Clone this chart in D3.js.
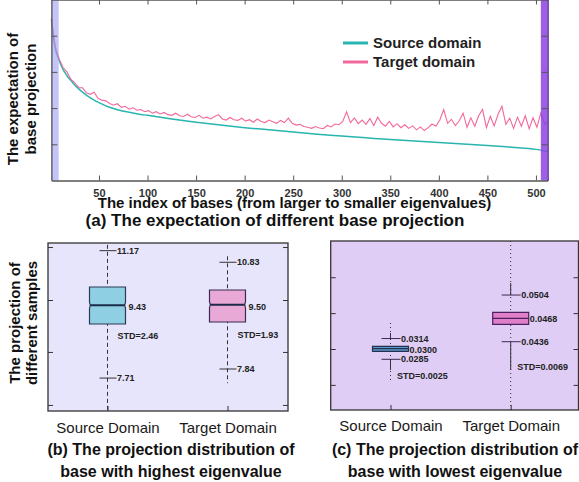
<!DOCTYPE html>
<html><head><meta charset="utf-8">
<script src="https://d3js.org/d3.v7.min.js"></script>
<style>
html,body{margin:0;padding:0;background:#fff;}
svg{display:block;font-family:"Liberation Sans",Arial,sans-serif;}
</style></head>
<body><svg id="c" width="579" height="482"></svg>
<script>
// ---------- Data: panel (a) ----------
const idxTicks = [50,100,150,200,250,300,350,400,450,500];
const seriesNames = ["Source domain","Target domain"];
const sourceIdx = [1,2,3,4,5,6,7,8,10,12,14,16,18,20,25,30,35,40,45,50,60,70,80,90,100,125,150,175,200,225,250,275,300,325,350,375,400,425,450,475,500,512];
const sourceVals = [4.45,4.2,3.98,3.8,3.65,3.54,3.46,3.39,3.25,3.12,3.02,2.94,2.86,2.80,2.64,2.51,2.40,2.30,2.22,2.15,2.03,1.95,1.89,1.84,1.80,1.70,1.61,1.53,1.46,1.40,1.34,1.28,1.23,1.18,1.13,1.09,1.05,1.01,0.97,0.92,0.86,0.80];
const targetIdx = d3.range(1, 510, 4).concat([512]);
const targetVals = [4.48,3.70,3.36,3.12,3.00,2.80,2.70,2.57,2.56,2.42,2.38,2.44,2.27,2.22,2.20,2.13,
 2.08,2.12,2.02,2.05,1.97,2.01,1.94,1.96,1.90,1.93,1.86,1.90,1.84,1.88,1.82,1.80,
 1.86,1.79,1.77,1.83,1.76,1.74,1.80,1.72,1.75,1.70,1.77,1.82,1.70,1.67,1.74,1.68,
 1.66,1.72,1.64,1.68,1.61,1.70,1.63,1.60,1.67,1.62,1.58,1.66,1.60,1.72,1.58,1.53,
 1.55,1.49,1.47,1.44,1.49,1.45,1.43,1.52,1.48,1.56,1.54,1.63,1.90,1.60,1.73,1.57,
 1.67,1.55,1.71,1.52,1.75,1.58,1.50,1.63,1.48,1.57,1.46,1.54,1.44,1.51,1.40,1.48,
 1.38,1.46,1.56,1.50,1.67,1.96,1.58,1.69,1.52,1.65,1.86,1.47,1.73,1.50,1.79,1.96,
 1.46,1.77,1.51,1.83,2.05,1.55,1.72,1.44,1.75,1.50,1.79,1.43,1.73,1.47,1.86,1.56,1.60];
const bandRanges = [[1,8.5],[505,512]];

// ---------- Data: panel (b) ----------
const domainCats = ["Source Domain","Target Domain"];
const bTicks = [6.91,8.37,9.80,11.26];
const bQ1 = [9.14,9.195], bMed = [9.655,9.671], bQ3 = [10.159,10.076];
const bCapLo = [7.65,7.90], bCapHi = [11.16,10.84];
const bMin = [6.74,7.51], bMax = [11.32,11.005];
const bCapHiLabel = ["11.17","10.83"], bMedLabel = ["9.43","9.50"], bCapLoLabel = ["7.71","7.84"];
const bStdLabel = ["STD=2.46","STD=1.93"], bStdAt = [8.81,8.84];

// ---------- Data: panel (c) ----------
const cTicks = [0.02,0.03,0.04,0.05];
const cQ1 = [0.02936,0.03688], cMed = [0.03008,0.03855], cQ3 = [0.03075,0.04022];
const cCapLo = [0.02713,0.03203], cCapHi = [0.03292,0.04504];
const cDenseLo = [0.02415,0.02415], cDenseHi = [0.03446,0.04838];
const cMin = [0.02053,0.0130], cMax = [0.03724,0.0601];
const cCapHiLabel = ["0.0314","0.0504"], cMedLabel = ["0.0300","0.0468"], cCapLoLabel = ["0.0285","0.0436"];
const cStdLabel = ["STD=0.0025","STD=0.0069"], cStdAt = [0.02256,0.02499];

const svg = d3.select("#c");
const AX = "#555";

// ================= Panel (a) =================
const xA = d3.scaleLinear().domain([1,512]).range([51.4,547.6]);
const yA = d3.scaleLinear().domain([0,5]).range([180.5,-0.5]);
const gA = svg.append("g");

const srcPts = sourceIdx.map((d,i)=>[d,sourceVals[i]]);
const tgtPts = targetIdx.map((d,i)=>[d,targetVals[i]]);
gA.append("path").datum(srcPts)
  .attr("d", d3.line().x(d=>xA(d[0])).y(d=>yA(d[1])).curve(d3.curveMonotoneX))
  .attr("fill","none").attr("stroke","#28b5b0").attr("stroke-width",1.5);
gA.append("path").datum(tgtPts)
  .attr("d", d3.line().x(d=>xA(d[0])).y(d=>yA(d[1])))
  .attr("fill","none").attr("stroke","#f2689c").attr("stroke-width",1.1);

const bandFill = ["#9d9df5","#8d43e2"], bandOp = [0.6,0.85];
gA.selectAll("rect.band").data(bandRanges).join("rect")
  .attr("x",d=>xA(d[0])).attr("width",d=>xA(d[1])-xA(d[0]))
  .attr("y",yA(5)).attr("height",yA(0)-yA(5))
  .attr("fill",(d,i)=>bandFill[i]).attr("opacity",(d,i)=>bandOp[i]);

function styleAxis(g){
  g.select(".domain").attr("stroke",AX).attr("stroke-width",1.3);
  g.selectAll(".tick line").attr("stroke",AX).attr("stroke-width",1);
}
gA.append("g").attr("transform",`translate(0,${yA(0)})`)
  .call(d3.axisBottom(xA).tickValues(idxTicks).tickSize(-5).tickSizeOuter(0).tickPadding(8.5))
  .call(styleAxis)
  .call(g=>g.selectAll("text").attr("font-size",11).attr("font-weight","bold").attr("fill","#333")
     .attr("font-family","'Liberation Sans',Arial,sans-serif"));
gA.append("g").attr("transform",`translate(0,${yA(5)})`)
  .call(d3.axisTop(xA).tickValues(idxTicks).tickSize(-5).tickSizeOuter(0).tickFormat(""))
  .call(styleAxis);
gA.append("g").attr("transform",`translate(${xA(1)},0)`)
  .call(d3.axisLeft(yA).tickValues([1,2,3,4]).tickSize(-6).tickSizeOuter(0).tickFormat(""))
  .call(styleAxis);
gA.append("g").attr("transform",`translate(${xA(512)},0)`)
  .call(d3.axisRight(yA).tickValues([1,2,3,4]).tickSize(-6).tickSizeOuter(0).tickFormat(""))
  .call(styleAxis).call(g=>g.select(".domain").attr("stroke","#4a1a90"));

// legend
const legColors = ["#28b5b0","#f2689c"];
const leg = gA.append("g");
seriesNames.forEach((n,i)=>{
  const yy = 43 + i*19;
  leg.append("line").attr("x1",343).attr("x2",368).attr("y1",yy).attr("y2",yy)
    .attr("stroke",legColors[i]).attr("stroke-width",3);
  leg.append("text").attr("x",373).attr("y",yy+5).text(n)
    .attr("font-size",15).attr("font-weight","bold").attr("fill","#222");
});

// y label (a)
const yl = svg.append("text").attr("transform","translate(18,99) rotate(-90)")
  .attr("text-anchor","middle").attr("font-size",15).attr("font-weight","bold").attr("fill","#111");
yl.append("tspan").attr("x",0).attr("dy",0).text("The expectation of");
yl.append("tspan").attr("x",0).attr("dy",18).text("base projection");

svg.append("text").attr("x",294.5).attr("y",207.5).attr("text-anchor","middle")
  .attr("font-size",15).attr("font-weight","bold").attr("fill","#111")
  .text("The index of bases (from larger to smaller eigenvalues)");
svg.append("text").attr("x",275).attr("y",225.5).attr("text-anchor","middle")
  .attr("font-size",17).attr("font-weight","bold").attr("fill","#111")
  .text("(a) The expectation of different base projection");

// ================= Box panels =================
function boxPanel(opt){
  const g = svg.append("g");
  const {x0,x1,y0,y1,y,x} = opt;
  g.append("rect").attr("x",x0).attr("y",y0).attr("width",x1-x0).attr("height",y1-y0)
    .attr("fill",opt.bg);
  g.append("g").attr("transform",`translate(${x0},0)`)
    .call(d3.axisLeft(y).tickValues(opt.ticks).tickSize(-5).tickSizeOuter(0).tickFormat(""))
    .call(gg=>{gg.select(".domain").remove(); gg.selectAll(".tick line").attr("stroke","#333");});
  g.append("g").attr("transform",`translate(${x1},0)`)
    .call(d3.axisRight(y).tickValues(opt.ticks).tickSize(-5).tickSizeOuter(0).tickFormat(""))
    .call(gg=>{gg.select(".domain").remove(); gg.selectAll(".tick line").attr("stroke","#333");});
  g.append("g").attr("transform",`translate(0,${y1})`)
    .call(d3.axisBottom(x).tickSize(-5).tickSizeOuter(0).tickPadding(13))
    .call(gg=>{gg.select(".domain").remove(); gg.selectAll(".tick line").attr("stroke","#333");
      gg.selectAll("text").attr("font-size",15).attr("fill","#1a1a1a")
        .attr("font-family","'Liberation Sans',Arial,sans-serif").attr("dy",0).attr("y",opt.catY);});

  domainCats.forEach((c,i)=>{
    const cx = x(c), hw = 18;
    g.append("line").attr("x1",cx).attr("x2",cx).attr("y1",y(opt.max[i])).attr("y2",y(opt.min[i]))
      .attr("stroke","#333").attr("stroke-width",1).attr("stroke-dasharray",opt.sparseDash);
    if(opt.denseLo){
      g.append("line").attr("x1",cx).attr("x2",cx).attr("y1",y(opt.denseHi[i])).attr("y2",y(opt.capHi[i]))
        .attr("stroke","#333").attr("stroke-width",1);
      g.append("line").attr("x1",cx).attr("x2",cx).attr("y1",y(opt.capLo[i])).attr("y2",y(opt.denseLo[i]))
        .attr("stroke","#333").attr("stroke-width",1);
    }
    [opt.capHi[i],opt.capLo[i]].forEach(v=>{
      g.append("line").attr("x1",cx-opt.capW).attr("x2",cx+opt.capW+1).attr("y1",y(v)).attr("y2",y(v))
        .attr("stroke",opt.capColor).attr("stroke-width",1);
    });
    const yq3=y(opt.q3[i]), yq1=y(opt.q1[i]), ym=y(opt.med[i]);
    const bx0=cx-hw, bx1=cx+hw;
    const nd = (yq1-yq3)>12 ? 0.8 : 0, nh = 3;
    const p = d3.path();
    p.moveTo(bx0,yq3); p.lineTo(bx1,yq3); p.lineTo(bx1,ym-nh); p.lineTo(bx1-nd,ym); p.lineTo(bx1,ym+nh);
    p.lineTo(bx1,yq1); p.lineTo(bx0,yq1); p.lineTo(bx0,ym+nh); p.lineTo(bx0+nd,ym); p.lineTo(bx0,ym-nh); p.closePath();
    g.append("path").attr("d",p.toString()).attr("fill",opt.fills[i])
      .attr("stroke",opt.boxStroke[i]).attr("stroke-width",1.2);
    g.append("line").attr("x1",bx0+nd).attr("x2",bx1-nd).attr("y1",ym).attr("y2",ym)
      .attr("stroke",opt.medStroke[i]).attr("stroke-width",opt.medW);
    const lab = (tx,ty,t)=>g.append("text").attr("x",tx).attr("y",ty).attr("dy","0.35em")
      .attr("font-size",opt.fs).attr("font-weight","bold").attr("fill","#222").text(t);
    lab(cx+opt.capW+1.5, y(opt.capHi[i]), opt.capHiLabel[i]);
    lab(cx+opt.capW+1.5, y(opt.capLo[i]), opt.capLoLabel[i]);
    lab(bx1+opt.medOff, ym+opt.medDy, opt.medLabel[i]);
    lab(cx+opt.stdOff, y(opt.stdAt[i]), opt.stdLabel[i]);
  });
  g.append("rect").attr("x",x0).attr("y",y0).attr("width",x1-x0).attr("height",y1-y0)
    .attr("fill","none").attr("stroke","#333").attr("stroke-width",1.3);
  return g;
}

// Panel (b)
const yB = d3.scaleLinear().domain([6.743,11.371]).range([411,243]);
const xB = d3.scalePoint().domain(domainCats).range([107.5,227.5]);
boxPanel({x0:48,x1:288,y0:243,y1:411,y:yB,x:xB,bg:"#e7e5fb",ticks:bTicks,
  q1:bQ1,med:bMed,q3:bQ3,capLo:bCapLo,capHi:bCapHi,min:bMin,max:bMax,
  capHiLabel:bCapHiLabel,capLoLabel:bCapLoLabel,medLabel:bMedLabel,stdLabel:bStdLabel,stdAt:bStdAt,
  sparseDash:"4,3",capW:8,capColor:"#333",fills:["#8fcfe3","#e9a9d7"],boxStroke:["#2a3a55","#3a2a55"],
  medStroke:["#1b2a49","#1b2a49"],medW:2,fs:9,medOff:3,medDy:2,stdOff:10,catY:22});

// Panel (c)
const yC = d3.scaleLinear().domain([0.0130,0.0601]).range([410,241]);
const xC = d3.scalePoint().domain(domainCats).range([390.5,510.7]);
boxPanel({x0:330.7,x1:578.5,y0:241,y1:410,y:yC,x:xC,bg:"#dfcdf6",ticks:cTicks,
  q1:cQ1,med:cMed,q3:cQ3,capLo:cCapLo,capHi:cCapHi,min:cMin,max:cMax,denseLo:cDenseLo,denseHi:cDenseHi,
  capHiLabel:cCapHiLabel,capLoLabel:cCapLoLabel,medLabel:cMedLabel,stdLabel:cStdLabel,stdAt:cStdAt,
  sparseDash:"1,3",capW:9,capColor:"#3a2a55",fills:["#5e9ad0","#e07fc9"],boxStroke:["#23304d","#4a2060"],
  medStroke:["#23304d","#4a2060"],medW:1.3,fs:9,medOff:1,medDy:1,stdOff:6.5,catY:21});

// y label (b)
const yl2 = svg.append("text").attr("transform","translate(20,323) rotate(-90)")
  .attr("text-anchor","middle").attr("font-size",15).attr("font-weight","bold").attr("fill","#111");
yl2.append("tspan").attr("x",0).attr("dy",0).text("The projection of");
yl2.append("tspan").attr("x",0).attr("dy",17).text("different samples");

// titles (b), (c)
const titles = [
  {x:171,l1:"(b) The projection distribution of",l2:"base with highest eigenvalue"},
  {x:455,l1:"(c) The projection distribution of",l2:"base with lowest eigenvalue"}];
titles.forEach(t=>{
  svg.append("text").attr("x",t.x).attr("y",455).attr("text-anchor","middle")
    .attr("font-size",16).attr("font-weight","bold").attr("fill","#111").text(t.l1);
  svg.append("text").attr("x",t.x).attr("y",477).attr("text-anchor","middle")
    .attr("font-size",16).attr("font-weight","bold").attr("fill","#111").text(t.l2);
});
</script></body></html>
